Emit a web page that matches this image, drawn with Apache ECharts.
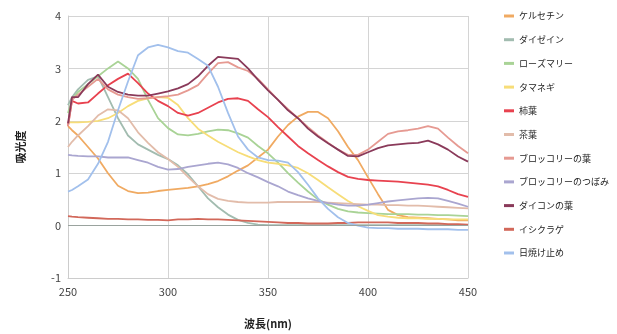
<!DOCTYPE html>
<html>
<head>
<meta charset="utf-8">
<script src="https://cdn.jsdelivr.net/npm/echarts@6/dist/echarts.min.js"></script>
<style>
  html, body { margin: 0; padding: 0; background: #fff; }
  #chart { width: 617px; height: 334px; }
</style>
</head>
<body>
<div id="chart"></div>
<script>
// 波長 (nm)
const wavelengths = [250, 252, 255, 260, 265, 270, 275, 280, 285, 290, 295, 300, 305, 310, 315, 320, 325, 330, 335, 340,
  345, 350, 355, 360, 365, 370, 375, 380, 385, 390, 395, 400, 405, 410, 415, 420, 425, 430, 435, 440, 445, 450];

// 吸光度
const quercetin = [1.9, 1.82, 1.72, 1.5, 1.28, 1.0, 0.76, 0.66, 0.62, 0.63, 0.66, 0.68, 0.7, 0.72, 0.75, 0.79, 0.85, 0.94, 1.05, 1.15,
  1.3, 1.45, 1.7, 1.92, 2.08, 2.17, 2.17, 2.05, 1.8, 1.5, 1.25, 0.92, 0.6, 0.3, 0.2, 0.16, 0.15, 0.14, 0.13, 0.12, 0.1, 0.1];
const daidzein = [2.3, 2.45, 2.6, 2.78, 2.85, 2.45, 2.05, 1.72, 1.55, 1.45, 1.35, 1.27, 1.15, 0.98, 0.75, 0.52, 0.35, 0.21, 0.11, 0.05,
  0.02, 0.01, 0.01, 0.01, 0.01, 0.01, 0.01, 0.01, 0.01, 0.01, 0.01, 0.01, 0.01, 0.01, 0.01, 0.01, 0.01, 0.01, 0.01, 0.01, 0.01, 0.01];
const rosemary = [2.15, 2.4, 2.55, 2.7, 2.85, 3.0, 3.13, 3.0, 2.8, 2.4, 2.05, 1.86, 1.74, 1.72, 1.75, 1.8, 1.83, 1.82, 1.76, 1.68,
  1.52, 1.38, 1.2, 1.0, 0.82, 0.65, 0.5, 0.4, 0.32, 0.27, 0.25, 0.24, 0.23, 0.22, 0.22, 0.22, 0.21, 0.21, 0.2, 0.2, 0.19, 0.18];
const onion = [1.97, 1.97, 1.97, 1.98, 2.0, 2.05, 2.15, 2.28, 2.38, 2.43, 2.45, 2.44, 2.3, 2.05, 1.85, 1.72, 1.6, 1.5, 1.4, 1.32,
  1.25, 1.2, 1.18, 1.15, 1.1, 1.0, 0.87, 0.73, 0.6, 0.47, 0.37, 0.28, 0.2, 0.17, 0.15, 0.14, 0.14, 0.13, 0.13, 0.12, 0.12, 0.12];
const persimmonLeaf = [1.9, 2.38, 2.33, 2.35, 2.52, 2.68, 2.8, 2.9, 2.72, 2.52, 2.38, 2.28, 2.15, 2.1, 2.15, 2.25, 2.35, 2.42, 2.43, 2.38,
  2.22, 2.07, 1.88, 1.7, 1.52, 1.38, 1.25, 1.13, 1.02, 0.93, 0.89, 0.87, 0.86, 0.85, 0.84, 0.82, 0.8, 0.78, 0.75, 0.68, 0.6, 0.55];
const teaLeaf = [1.5, 1.6, 1.72, 1.9, 2.1, 2.22, 2.2, 2.05, 1.78, 1.58, 1.4, 1.27, 1.12, 0.93, 0.75, 0.6, 0.51, 0.47, 0.45, 0.44,
  0.44, 0.44, 0.45, 0.45, 0.45, 0.45, 0.45, 0.44, 0.43, 0.42, 0.41, 0.4, 0.4, 0.39, 0.39, 0.38, 0.38, 0.37, 0.36, 0.35, 0.34, 0.33];
const broccoliLeaf = [1.9, 2.4, 2.5, 2.65, 2.8, 2.6, 2.5, 2.45, 2.42, 2.43, 2.45, 2.47, 2.5, 2.58, 2.68, 2.9, 3.1, 3.12, 3.02, 2.95,
  2.8, 2.6, 2.4, 2.22, 2.05, 1.88, 1.72, 1.58, 1.45, 1.35, 1.35, 1.45, 1.6, 1.75, 1.8, 1.82, 1.85, 1.9, 1.85, 1.68, 1.52, 1.38];
const broccoliBud = [1.35, 1.34, 1.33, 1.32, 1.32, 1.3, 1.3, 1.3, 1.25, 1.2, 1.12, 1.07, 1.08, 1.12, 1.15, 1.18, 1.2, 1.17, 1.1, 1.0,
  0.92, 0.83, 0.75, 0.65, 0.58, 0.52, 0.47, 0.43, 0.4, 0.38, 0.38, 0.4, 0.43, 0.46, 0.48, 0.5, 0.52, 0.53, 0.52, 0.47, 0.42, 0.36];
const radishLeaf = [1.95, 2.45, 2.45, 2.7, 2.88, 2.65, 2.55, 2.5, 2.48, 2.48, 2.52, 2.56, 2.62, 2.7, 2.85, 3.05, 3.22, 3.2, 3.18, 3.0,
  2.78, 2.58, 2.4, 2.2, 2.05, 1.85, 1.7, 1.57, 1.45, 1.33, 1.32, 1.4, 1.48, 1.53, 1.55, 1.57, 1.58, 1.62, 1.55, 1.45, 1.32, 1.22];
const nostoc = [0.18, 0.17, 0.16, 0.15, 0.14, 0.13, 0.13, 0.12, 0.12, 0.11, 0.11, 0.1, 0.12, 0.12, 0.13, 0.12, 0.12, 0.11, 0.1, 0.09,
  0.08, 0.07, 0.06, 0.05, 0.05, 0.04, 0.04, 0.04, 0.05, 0.05, 0.06, 0.06, 0.06, 0.06, 0.05, 0.05, 0.05, 0.04, 0.04, 0.03, 0.03, 0.02];
const sunscreen = [0.65, 0.68, 0.75, 0.88, 1.18, 1.6, 2.2, 2.75, 3.25, 3.4, 3.45, 3.4, 3.33, 3.3, 3.18, 3.05, 2.65, 2.15, 1.7, 1.45,
  1.3, 1.25, 1.24, 1.2, 1.02, 0.78, 0.52, 0.32, 0.16, 0.05, 0.0, -0.04, -0.05, -0.05, -0.06, -0.06, -0.06, -0.07, -0.07, -0.07, -0.08, -0.08];

const seriesNames = ['ケルセチン', 'ダイゼイン', 'ローズマリー', 'タマネギ', '柿葉', '茶葉',
  'ブロッコリーの葉', 'ブロッコリーのつぼみ', 'ダイコンの葉', 'イシクラゲ', '日焼け止め'];
const seriesValues = [quercetin, daidzein, rosemary, onion, persimmonLeaf, teaLeaf,
  broccoliLeaf, broccoliBud, radishLeaf, nostoc, sunscreen];
const colors = ['#f0aa62', '#a2bcb0', '#a9d396', '#f7dd78', '#e8424f', '#e2bcaa',
  '#e69a92', '#aaa6d0', '#8a3a5a', '#d2685a', '#a2c0ec'];

const font = '"Noto Sans CJK JP", "Noto Sans", sans-serif';

const chart = echarts.init(document.getElementById('chart'));

const series = seriesNames.map((name, i) => {
  const s = {
    name: name,
    type: 'line',
    symbol: 'none',
    showSymbol: false,
    lineStyle: { width: 1.8 },
    data: wavelengths.map((w, j) => [w, seriesValues[i][j]])
  };
  if (i === 0) {
    // 0 の基準線
    s.markLine = {
      silent: true,
      symbol: 'none',
      label: { show: false },
      lineStyle: { color: '#9aa39e', type: 'solid', width: 1.2 },
      data: [{ yAxis: 0 }]
    };
  }
  return s;
});

chart.setOption({
  animation: false,
  color: colors,
  textStyle: { fontFamily: font },
  grid: { left: 68, right: 149, top: 16, bottom: 54 },
  legend: {
    orient: 'vertical',
    left: 499,
    top: 5,
    icon: 'rect',
    itemWidth: 10,
    itemHeight: 3,
    itemGap: 11.7,
    textStyle: { fontSize: 9, lineHeight: 12, color: '#222', fontFamily: font },
    data: seriesNames
  },
  xAxis: {
    type: 'value',
    min: 250,
    max: 450,
    interval: 50,
    name: '波長(nm)',
    nameLocation: 'middle',
    nameGap: 40,
    nameTextStyle: { fontSize: 11, fontWeight: 'bold', color: '#222', fontFamily: font },
    axisLine: { onZero: false, lineStyle: { color: '#ccc' } },
    axisTick: { show: false },
    axisLabel: { fontSize: 11, color: '#444', margin: 8 },
    splitLine: { lineStyle: { color: '#d4d4d4' } }
  },
  yAxis: {
    type: 'value',
    min: -1,
    max: 4,
    interval: 1,
    name: '吸光度',
    nameLocation: 'middle',
    nameRotate: 90,
    nameGap: 42,
    nameTextStyle: { fontSize: 11, fontWeight: 'bold', color: '#222', fontFamily: font },
    axisLine: { show: true, lineStyle: { color: '#ccc' } },
    axisTick: { show: false },
    axisLabel: { fontSize: 11, color: '#444', margin: 7 },
    splitLine: { lineStyle: { color: '#d4d4d4' } }
  },
  series: series
});
</script>
</body>
</html>
